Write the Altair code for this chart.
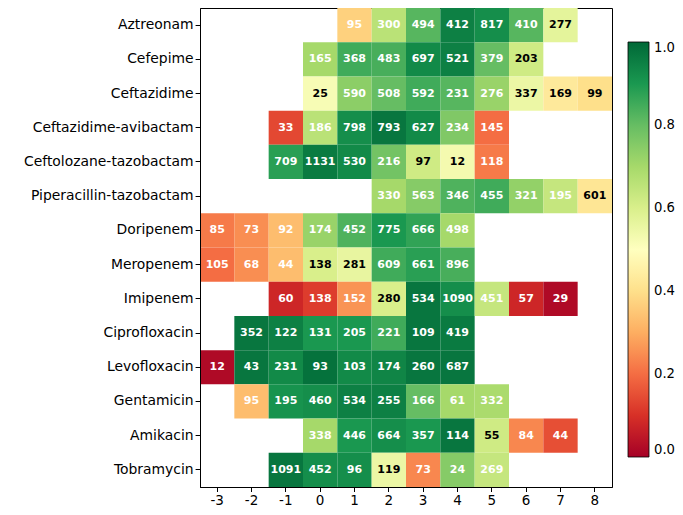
import altair as alt
import pandas as pd

rows = ["Aztreonam", "Cefepime", "Ceftazidime", "Ceftazidime-avibactam",
        "Ceftolozane-tazobactam", "Piperacillin-tazobactam", "Doripenem",
        "Meropenem", "Imipenem", "Ciprofloxacin", "Levofloxacin",
        "Gentamicin", "Amikacin", "Tobramycin"]
columns = list(range(-3, 9))

start_col = [1, 0, 0, -1, -1, 2, -3, -3, -1, -2, -3, -2, 0, -1]

counts = [
    [95, 300, 494, 412, 817, 410, 277],
    [165, 368, 483, 697, 521, 379, 203],
    [25, 590, 508, 592, 231, 276, 337, 169, 99],
    [33, 186, 798, 793, 627, 234, 145],
    [709, 1131, 530, 216, 97, 12, 118],
    [330, 563, 346, 455, 321, 195, 601],
    [85, 73, 92, 174, 452, 775, 666, 498],
    [105, 68, 44, 138, 281, 609, 661, 896],
    [60, 138, 152, 280, 534, 1090, 451, 57, 29],
    [352, 122, 131, 205, 221, 109, 419],
    [12, 43, 231, 93, 103, 174, 260, 687],
    [95, 195, 460, 534, 255, 166, 61, 332],
    [338, 446, 664, 357, 114, 55, 84, 44],
    [1091, 452, 96, 119, 73, 24, 269],
]

values = [
    [0.37, 0.66, 0.82, 0.95, 0.92, 0.82, 0.57],
    [0.70, 0.85, 0.84, 0.93, 0.95, 0.80, 0.62],
    [0.52, 0.74, 0.80, 0.85, 0.82, 0.72, 0.55, 0.43, 0.40],
    [0.14, 0.66, 0.92, 0.97, 0.93, 0.76, 0.20],
    [0.88, 0.96, 0.93, 0.78, 0.62, 0.53, 0.22],
    [0.70, 0.75, 0.83, 0.85, 0.73, 0.64, 0.42],
    [0.22, 0.25, 0.33, 0.72, 0.83, 0.90, 0.87, 0.70],
    [0.20, 0.25, 0.33, 0.60, 0.56, 0.85, 0.88, 0.84],
    [0.08, 0.12, 0.26, 0.60, 0.97, 0.92, 0.64, 0.08, 0.02],
    [0.97, 0.95, 0.90, 0.90, 0.85, 0.97, 0.96],
    [0.02, 0.97, 0.93, 0.98, 0.93, 0.94, 0.97, 0.97],
    [0.33, 0.91, 0.92, 0.95, 0.95, 0.80, 0.70, 0.69],
    [0.70, 0.90, 0.92, 0.90, 0.97, 0.62, 0.24, 0.15],
    [0.97, 0.92, 0.92, 0.55, 0.24, 0.75, 0.64],
]

cb_ticks = [0.0, 0.2, 0.4, 0.6, 0.8, 1.0]
rdylgn = ["#a50026", "#d73027", "#f46d43", "#fdae61", "#fee08b", "#ffffbf",
          "#d9ef8b", "#a6d96a", "#66bd63", "#1a9850", "#006837"]
stops = [i / 10 for i in range(11)]

recs = []
for r, s, cs, vs in zip(rows, start_col, counts, values):
    for i, (c, v) in enumerate(zip(cs, vs)):
        recs.append({"row": r, "col": s + i, "n": c, "v": v})
df = pd.DataFrame(recs)

font = "DejaVu Sans"

x = alt.X("col:O", scale=alt.Scale(domain=columns, paddingInner=0, paddingOuter=0),
          axis=alt.Axis(title=None, labelAngle=0, labelFontSize=13.5, labelPadding=1.5, tickSize=4.5))
y = alt.Y("row:O", sort=rows, scale=alt.Scale(domain=rows, paddingInner=0, paddingOuter=0),
          axis=alt.Axis(title=None))

rects = alt.Chart(df).mark_rect().encode(
    x=x, y=y,
    color=alt.Color("v:Q",
                    scale=alt.Scale(domain=stops, range=rdylgn, interpolate="rgb"),
                    legend=alt.Legend(title=None, orient="none", legendX=428, legendY=34,
                                      direction="vertical", gradientLength=415,
                                      gradientThickness=21, values=cb_ticks, format=".1f",
                                      labelFontSize=13.2, labelFont=font, labelColor="black",
                                      labelBaseline="middle",
                                      gradientStrokeColor="black", gradientStrokeWidth=0.8,
                                      labelOffset=5)),
)

text = alt.Chart(df).mark_text(font=font, fontSize=11, fontWeight="bold").encode(
    x=x, y=y,
    text="n:Q",
    color=alt.condition("datum.v >= 0.39 && datum.v <= 0.63", alt.value("black"), alt.value("white")),
)

chart = (rects + text).properties(
    width=412, height=479,
    autosize=alt.AutoSizeParams(type="none"),
    padding={"left": 192, "top": 0, "right": 63, "bottom": 20},
).configure_view(stroke="black", strokeWidth=1).configure_axis(
    labelFont=font, labelFontSize=13.9, labelColor="black",
    tickColor="black", tickSize=4.9, tickWidth=1, domainColor="black", domainWidth=1,
    grid=False, labelPadding=2,
)

chart.save("out.html", embed_options={"renderer": "svg", "actions": False})
